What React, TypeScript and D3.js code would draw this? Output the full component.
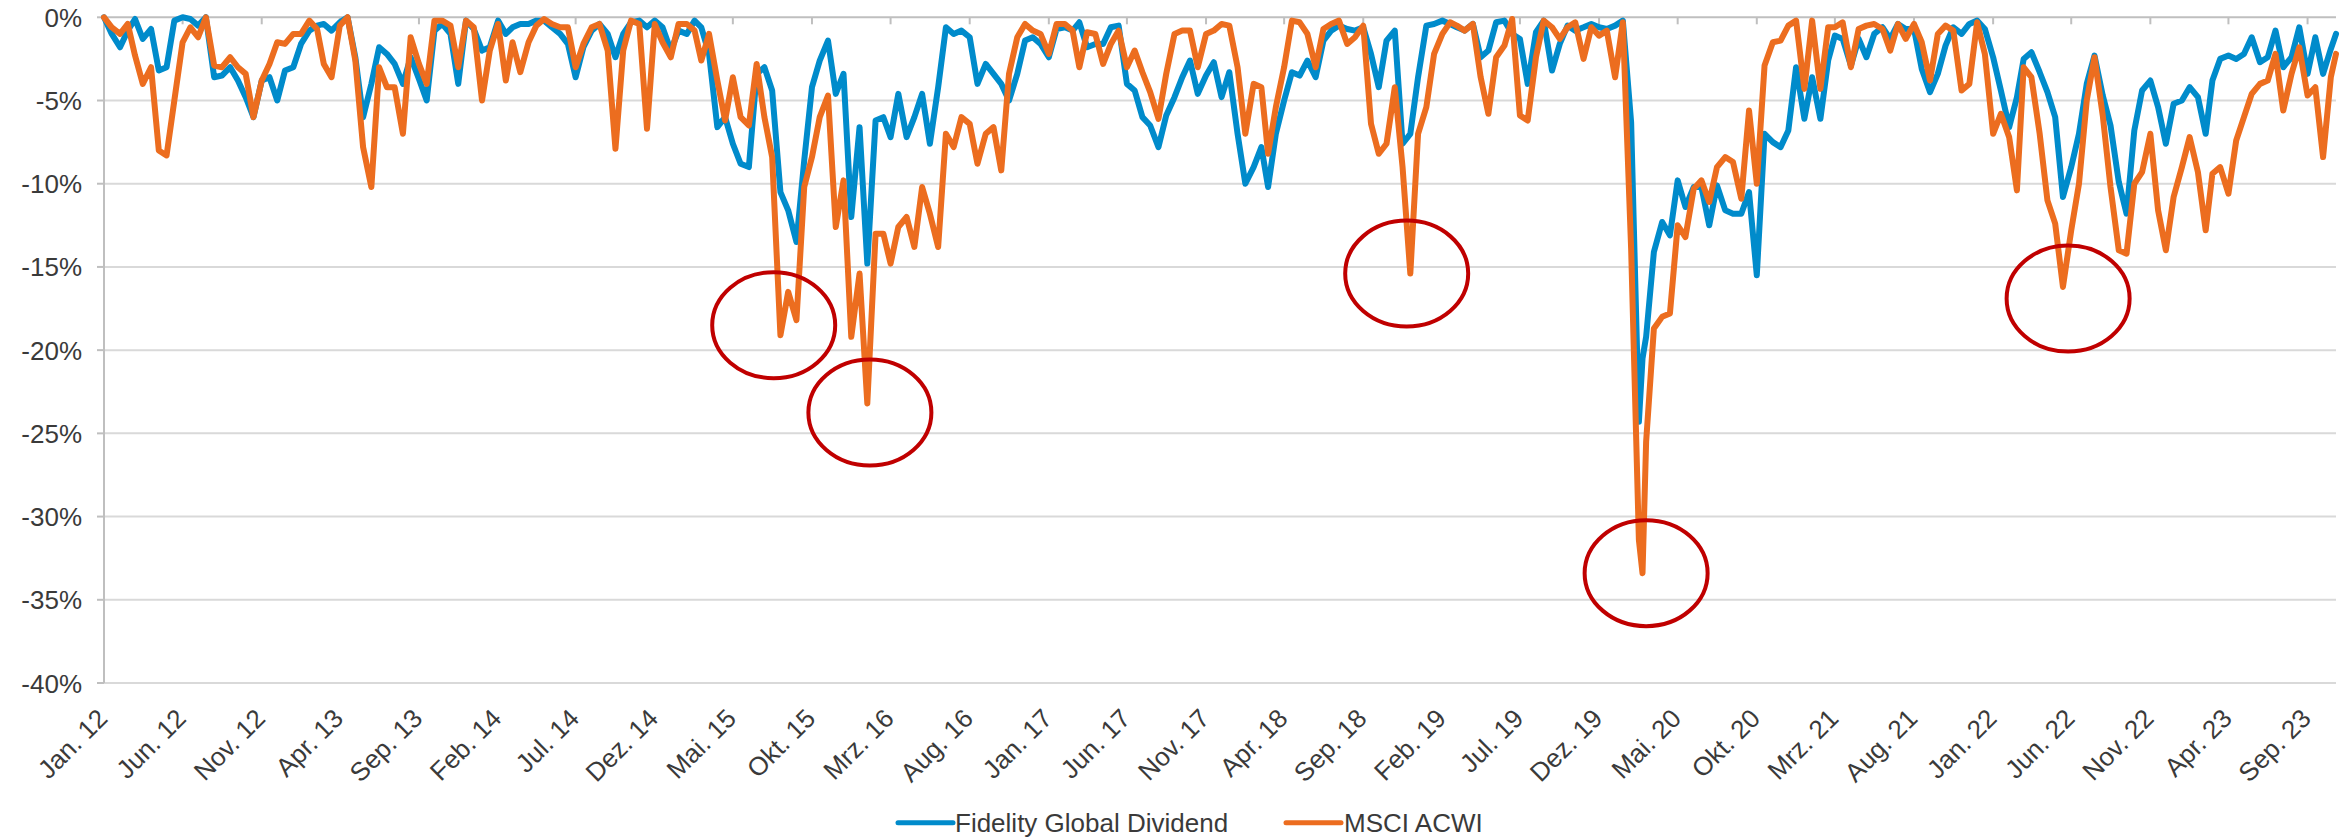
import React from "react";
import * as d3 from "d3";

// Half-monthly readings of the drawdown chart (values in %)
const dates: string[] = [
  "2012-01-01","2012-01-16","2012-02-01","2012-02-16","2012-03-01","2012-03-16","2012-04-01","2012-04-16","2012-05-01","2012-05-16","2012-06-01","2012-06-16","2012-07-01","2012-07-16","2012-08-01","2012-08-16","2012-09-01","2012-09-16","2012-10-01","2012-10-16","2012-11-01","2012-11-16","2012-12-01","2012-12-16",
  "2013-01-01","2013-01-16","2013-02-01","2013-02-16","2013-03-01","2013-03-16","2013-04-01","2013-04-16","2013-05-01","2013-05-16","2013-06-01","2013-06-16","2013-07-01","2013-07-16","2013-08-01","2013-08-16","2013-09-01","2013-09-16","2013-10-01","2013-10-16","2013-11-01","2013-11-16","2013-12-01","2013-12-16",
  "2014-01-01","2014-01-16","2014-02-01","2014-02-16","2014-03-01","2014-03-16","2014-04-01","2014-04-16","2014-05-01","2014-05-16","2014-06-01","2014-06-16","2014-07-01","2014-07-16","2014-08-01","2014-08-16","2014-09-01","2014-09-16","2014-10-01","2014-10-16","2014-11-01","2014-11-16","2014-12-01","2014-12-16",
  "2015-01-01","2015-01-16","2015-02-01","2015-02-16","2015-03-01","2015-03-16","2015-04-01","2015-04-16","2015-05-01","2015-05-16","2015-06-01","2015-06-16","2015-07-01","2015-07-16","2015-08-01","2015-08-16","2015-09-01","2015-09-16","2015-10-01","2015-10-16","2015-11-01","2015-11-16","2015-12-01","2015-12-16",
  "2016-01-01","2016-01-16","2016-02-01","2016-02-16","2016-03-01","2016-03-16","2016-04-01","2016-04-16","2016-05-01","2016-05-16","2016-06-01","2016-06-16","2016-07-01","2016-07-16","2016-08-01","2016-08-16","2016-09-01","2016-09-16","2016-10-01","2016-10-16","2016-11-01","2016-11-16","2016-12-01","2016-12-16",
  "2017-01-01","2017-01-16","2017-02-01","2017-02-16","2017-03-01","2017-03-16","2017-04-01","2017-04-16","2017-05-01","2017-05-16","2017-06-01","2017-06-16","2017-07-01","2017-07-16","2017-08-01","2017-08-16","2017-09-01","2017-09-16","2017-10-01","2017-10-16","2017-11-01","2017-11-16","2017-12-01","2017-12-16",
  "2018-01-01","2018-01-16","2018-02-01","2018-02-16","2018-03-01","2018-03-16","2018-04-01","2018-04-16","2018-05-01","2018-05-16","2018-06-01","2018-06-16","2018-07-01","2018-07-16","2018-08-01","2018-08-16","2018-09-01","2018-09-16","2018-10-01","2018-10-16","2018-11-01","2018-11-16","2018-12-01","2018-12-16",
  "2019-01-01","2019-01-16","2019-02-01","2019-02-16","2019-03-01","2019-03-16","2019-04-01","2019-04-16","2019-05-01","2019-05-16","2019-06-01","2019-06-16","2019-07-01","2019-07-16","2019-08-01","2019-08-16","2019-09-01","2019-09-16","2019-10-01","2019-10-16","2019-11-01","2019-11-16","2019-12-01","2019-12-16",
  "2020-01-01","2020-01-16","2020-02-01","2020-02-16","2020-02-23","2020-03-01","2020-03-16","2020-04-01","2020-04-16","2020-05-01","2020-05-16","2020-06-01","2020-06-16","2020-07-01","2020-07-16","2020-08-01","2020-08-16","2020-09-01","2020-09-16","2020-10-01","2020-10-16","2020-11-01","2020-11-16","2020-12-01","2020-12-16",
  "2021-01-01","2021-01-16","2021-02-01","2021-02-16","2021-03-01","2021-03-16","2021-04-01","2021-04-16","2021-05-01","2021-05-16","2021-06-01","2021-06-16","2021-07-01","2021-07-16","2021-08-01","2021-08-16","2021-09-01","2021-09-16","2021-10-01","2021-10-16","2021-11-01","2021-11-16","2021-12-01","2021-12-16",
  "2022-01-01","2022-01-16","2022-02-01","2022-02-16","2022-03-01","2022-03-16","2022-04-01","2022-04-16","2022-05-01","2022-05-16","2022-06-01","2022-06-16","2022-07-01","2022-07-16","2022-08-01","2022-08-16","2022-09-01","2022-09-16","2022-10-01","2022-10-16","2022-11-01","2022-11-16","2022-12-01","2022-12-16",
  "2023-01-01","2023-01-16","2023-02-01","2023-02-16","2023-03-01","2023-03-16","2023-04-01","2023-04-16","2023-05-01","2023-05-16","2023-06-01","2023-06-16","2023-07-01","2023-07-16","2023-08-01","2023-08-16","2023-09-01","2023-09-16","2023-10-01","2023-10-16","2023-10-26",
];

const fidelity: number[] = [
  0, -1.0, -1.8, -0.8, -0.1, -1.3, -0.7, -3.2, -3.0, -0.2, 0, -0.1, -0.5, 0, -3.6, -3.5, -3.0, -3.8, -4.8, -6.0, -3.8, -3.6, -5.0, -3.2,
  -3.0, -1.6, -0.8, -0.5, -0.4, -0.8, -0.3, 0, -2.4, -6.0, -4.0, -1.8, -2.2, -2.8, -4.0, -2.4, -3.7, -5.0, -0.8, -0.4, -1.0, -4.0, -0.2, -0.7,
  -2.0, -1.8, -0.2, -1.0, -0.6, -0.4, -0.4, -0.2, -0.2, -0.6, -1.0, -1.6, -3.6, -1.8, -0.8, -0.4, -1.0, -2.4, -1.0, -0.3, -0.2, -0.6, -0.2, -0.6,
  -2.0, -0.8, -1.0, -0.2, -0.6, -2.2, -6.6, -6.0, -7.6, -8.8, -9.0, -3.4, -3.0, -4.4, -10.5, -11.6, -13.5, -8.6, -4.2, -2.6, -1.4, -4.6, -3.4, -12.0,
  -6.6, -14.8, -6.2, -6.0, -7.2, -4.6, -7.2, -6.0, -4.6, -7.6, -4.2, -0.6, -1.0, -0.8, -1.2, -4.0, -2.8, -3.4, -4.0, -5.0, -3.4, -1.4, -1.2, -1.6,
  -2.4, -0.7, -0.6, -0.8, -0.3, -1.8, -1.6, -1.6, -0.6, -0.5, -4.0, -4.4, -6.0, -6.5, -7.8, -5.9, -4.8, -3.6, -2.6, -4.6, -3.5, -2.7, -4.8, -3.3,
  -7.0, -10.0, -9.0, -7.8, -10.2, -7.0, -5.0, -3.3, -3.5, -2.6, -3.6, -1.4, -0.8, -0.5, -0.7, -0.8, -0.6, -2.2, -4.2, -1.4, -0.8, -7.6, -7.0, -3.6,
  -0.5, -0.4, -0.2, -0.4, -0.6, -0.8, -0.4, -2.4, -2.0, -0.3, -0.2, -1.0, -1.3, -4.0, -0.9, -0.2, -3.2, -1.6, -0.5, -0.8, -0.6, -0.4, -0.6, -0.7,
  -0.5, -0.2, -6.3, -24.3, -20.5, -19.2, -14.1, -12.3, -13.1, -9.8, -11.4, -10.2, -10.2, -12.5, -10.1, -11.6, -11.8, -11.8, -10.5, -15.5, -7.0, -7.5, -7.8, -6.8, -3.0,
  -6.1, -3.6, -6.1, -2.6, -1.1, -1.3, -2.9, -1.3, -2.4, -1.0, -0.6, -1.3, -0.4, -0.7, -0.7, -3.1, -4.5, -3.4, -1.7, -0.6, -1.0, -0.4, -0.2, -0.7,
  -2.4, -4.4, -6.6, -4.8, -2.5, -2.1, -3.3, -4.5, -6.0, -10.8, -9.0, -7.0, -4.0, -2.3, -4.7, -6.5, -9.9, -11.8, -6.8, -4.4, -3.8, -5.4, -7.6, -5.2,
  -5.0, -4.2, -4.8, -7.0, -3.8, -2.5, -2.3, -2.5, -2.2, -1.2, -2.7, -2.4, -0.8, -3.0, -2.4, -0.6, -3.4, -1.2, -3.4, -1.9, -1.0,
];

const msciAcwi: number[] = [
  0, -0.6, -1.0, -0.4, -2.3, -4.0, -3.0, -8.0, -8.3, -5.0, -1.5, -0.6, -1.2, 0, -2.9, -3.0, -2.4, -3.0, -3.4, -6.0, -3.8, -2.8, -1.5, -1.6,
  -1.0, -1.0, -0.2, -0.7, -2.8, -3.6, -0.5, 0, -2.6, -7.8, -10.2, -3.0, -4.2, -4.2, -7.0, -1.2, -2.8, -4.0, -0.2, -0.2, -0.5, -3.0, -0.2, -0.6,
  -5.0, -2.0, -0.4, -3.8, -1.5, -3.3, -1.5, -0.5, -0.1, -0.4, -0.6, -0.6, -3.0, -1.6, -0.6, -0.4, -2.0, -7.9, -2.0, -0.2, -0.4, -6.7, -0.4, -1.5,
  -2.4, -0.4, -0.4, -0.8, -2.6, -1.0, -3.8, -6.2, -3.6, -6.0, -6.5, -2.8, -6.0, -8.4, -19.1, -16.5, -18.2, -10.2, -8.4, -6.0, -4.7, -12.6, -9.8, -19.2,
  -15.4, -23.2, -13.0, -13.0, -14.8, -12.6, -12.0, -13.8, -10.2, -11.8, -13.8, -7.0, -7.8, -6.0, -6.4, -8.8, -7.0, -6.6, -9.2, -3.4, -1.2, -0.4, -0.8, -1.0,
  -2.2, -0.4, -0.4, -0.8, -3.0, -0.9, -1.0, -2.8, -1.6, -0.8, -3.0, -2.0, -3.3, -4.5, -6.1, -3.4, -1.0, -0.8, -0.8, -3.0, -1.0, -0.8, -0.4, -0.5,
  -3.0, -7.0, -4.0, -4.2, -8.2, -5.4, -3.0, -0.2, -0.3, -1.0, -3.0, -0.7, -0.4, -0.2, -1.6, -1.2, -0.5, -6.4, -8.2, -7.6, -4.2, -9.0, -15.4, -7.0,
  -5.4, -2.2, -1.0, -0.3, -0.5, -0.8, -0.4, -3.6, -5.8, -2.4, -1.7, -0.1, -5.9, -6.2, -2.4, -0.2, -0.6, -1.3, -0.6, -0.3, -2.5, -0.6, -1.1, -0.8,
  -3.6, -0.3, -13.9, -31.4, -33.4, -25.5, -18.7, -18.0, -17.8, -12.5, -13.2, -10.3, -9.8, -11.1, -9.0, -8.4, -8.7, -10.9, -5.6, -10.0, -2.9, -1.5, -1.4, -0.5, -0.2,
  -4.3, -0.2, -4.3, -0.6, -0.6, -0.3, -3.0, -0.7, -0.5, -0.4, -0.7, -2.0, -0.4, -1.3, -0.4, -1.5, -3.8, -1.0, -0.5, -0.8, -4.4, -4.0, -0.3, -2.2,
  -7.0, -5.8, -7.2, -10.4, -3.0, -3.6, -7.0, -11.0, -12.4, -16.2, -12.8, -10.0, -5.0, -2.4, -5.9, -10.2, -14.0, -14.2, -10.0, -9.3, -7.0, -11.6, -14.0, -10.8,
  -9.0, -7.2, -9.3, -12.8, -9.4, -9.0, -10.6, -7.4, -6.0, -4.6, -4.0, -3.8, -2.2, -5.6, -3.4, -1.8, -4.7, -4.2, -8.4, -3.6, -2.2,
];

const seriesNames = ["Fidelity Global Dividend", "MSCI ACWI"];
const seriesColors = ["#008BCB", "#EC6D1F"];

const xTickLabels = [
  "Jan. 12","Jun. 12","Nov. 12","Apr. 13","Sep. 13","Feb. 14","Jul. 14","Dez. 14","Mai. 15","Okt. 15",
  "Mrz. 16","Aug. 16","Jan. 17","Jun. 17","Nov. 17","Apr. 18","Sep. 18","Feb. 19","Jul. 19","Dez. 19",
  "Mai. 20","Okt. 20","Mrz. 21","Aug. 21","Jan. 22","Jun. 22","Nov. 22","Apr. 23","Sep. 23",
];
const yTicks = [0, -5, -10, -15, -20, -25, -30, -35, -40];

// Highlighted drawdowns (red ellipses): centre date and value
const highlightDates = ["2015-07-19", "2016-01-21", "2018-11-24", "2020-03-01", "2022-05-26"];
const highlightValues = [-18.5, -23.75, -15.4, -33.4, -16.9];

const FONT = "'Liberation Sans', Arial, Helvetica, sans-serif";
const TEXT = "#3a3a3a";

export default function App() {
  const W = 2346;
  const H = 838;
  const left = 104;
  const right = 2336;
  const top = 17.3;
  const bottom = 683;

  const parse = d3.utcParse("%Y-%m-%d");
  const start = parse("2012-01-01") as Date;
  const end = parse("2023-10-26") as Date;
  const x = d3.scaleUtc().domain([start, end]).range([left, right]);
  const y = d3.scaleLinear().domain([0, -40]).range([top, bottom]);

  const parsed = dates.map((d) => parse(d) as Date);
  const line = d3
    .line<number>()
    .x((_, i) => x(parsed[i]))
    .y((v) => y(v));

  const tickDates = d3.utcMonth.range(start, end, 5).slice(0, xTickLabels.length);
  const series = [fidelity, msciAcwi];

  React.useEffect(() => {
    document.body.style.margin = "0";
  }, []);

  const fmt = (v: number) => `${v}%`;

  return (
    <svg
      width={W}
      height={H}
      viewBox={`0 0 ${W} ${H}`}
      style={{ position: "absolute", left: 0, top: 0, background: "#fff", fontFamily: FONT }}
    >
      <rect x={0} y={0} width={W} height={H} fill="#fff" />
      {/* gridlines */}
      {yTicks.filter((t) => t !== 0).map((t) => (
        <line key={`g${t}`} x1={left} x2={right} y1={y(t)} y2={y(t)} stroke="#d9d9d9" strokeWidth={2} />
      ))}
      {/* y axis */}
      <line x1={left} x2={left} y1={top} y2={bottom} stroke="#bfbfbf" strokeWidth={2} />
      {yTicks.map((t) => (
        <g key={`yt${t}`}>
          <line x1={left - 7} x2={left} y1={y(t)} y2={y(t)} stroke="#bfbfbf" strokeWidth={2} />
          <text x={82} y={y(t) + 9.5} textAnchor="end" fontSize={26} fill={TEXT}>
            {fmt(t)}
          </text>
        </g>
      ))}
      {/* x axis at 0% */}
      <line x1={left} x2={right} y1={y(0)} y2={y(0)} stroke="#bfbfbf" strokeWidth={2} />
      {tickDates.map((d, i) => (
        <g key={`xt${i}`}>
          <line x1={x(d)} x2={x(d)} y1={y(0)} y2={y(0) + 7} stroke="#bfbfbf" strokeWidth={2} />
          <text
            transform={`translate(${x(d) + 5},720) rotate(-45)`}
            textAnchor="end"
            fontSize={26}
            fill={TEXT}
          >
            {xTickLabels[i]}
          </text>
        </g>
      ))}
      {/* series */}
      {series.map((vals, si) => (
        <path
          key={`s${si}`}
          d={line(vals) || ""}
          fill="none"
          stroke={seriesColors[si]}
          strokeWidth={6}
          strokeLinejoin="round"
          strokeLinecap="round"
        />
      ))}
      {/* highlight ellipses */}
      {highlightDates.map((d, i) => (
        <ellipse
          key={`h${i}`}
          cx={x(parse(d) as Date)}
          cy={y(highlightValues[i])}
          rx={61.5}
          ry={53}
          fill="none"
          stroke="#C00000"
          strokeWidth={4}
        />
      ))}
      {/* legend */}
      <g>
        <line x1={898} x2={953} y1={822.7} y2={822.7} stroke={seriesColors[0]} strokeWidth={5} strokeLinecap="round" />
        <text x={955} y={832} fontSize={26} fill={TEXT}>{seriesNames[0]}</text>
        <line x1={1286} x2={1341} y1={822.7} y2={822.7} stroke={seriesColors[1]} strokeWidth={5} strokeLinecap="round" />
        <text x={1344} y={832} fontSize={26} fill={TEXT}>{seriesNames[1]}</text>
      </g>
    </svg>
  );
}
